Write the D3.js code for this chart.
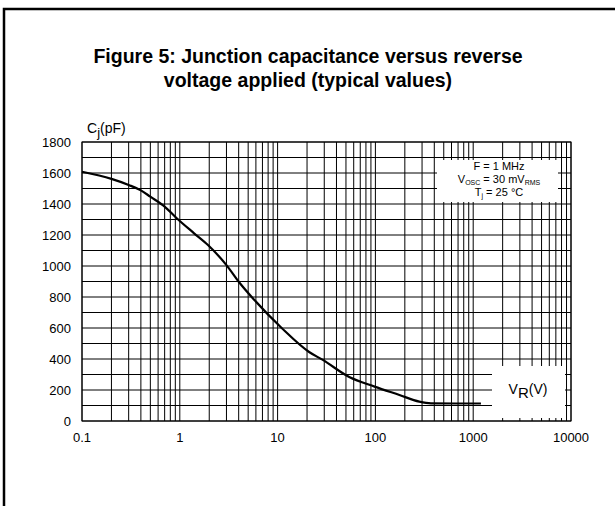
<!DOCTYPE html>
<html>
  <head>
    <meta charset="utf-8">
    <script src="https://cdn.jsdelivr.net/npm/d3@7"></script>
    <style>
      body{
        margin: 0;
        padding: 0;
        background-color: white;
      }
      text{
        font-family: "Liberation Sans", Arial, sans-serif;
        fill: #000;
      }
      .grid line{
        stroke: #000;
        stroke-width: 1px;
      }
    </style>
  </head>
  <body>
    <svg id="chart" width="615" height="506"></svg>
    <script>
      // reverse voltage (V) and junction capacitance (pF)
      var voltage = [0.1, 0.2, 0.3, 0.4, 0.5, 0.7, 0.93, 1.4, 1.94, 3.0, 4.1, 5.8, 11, 21, 29, 54, 98, 176, 281, 370, 660, 1200];
      var capacitance = [1608, 1562, 1523, 1488, 1447, 1383, 1308, 1211, 1135, 1006, 890, 780, 600, 445, 394, 284, 222, 168, 125, 114, 113, 113];
      var xTicks = [0.1, 1, 10, 100, 1000, 10000];
      var yTicks = [0, 200, 400, 600, 800, 1000, 1200, 1400, 1600, 1800];

      var svg = d3.select("#chart");

      // outer frame, runs off the right and bottom edge
      svg.append("rect")
        .attr("x", 4).attr("y", 9)
        .attr("width", 700).attr("height", 600)
        .attr("fill", "none")
        .attr("stroke", "#000")
        .attr("stroke-width", 2.5);

      svg.append("text")
        .attr("x", 308).attr("y", 63)
        .attr("text-anchor", "middle")
        .style("font-size", "19.5px").style("font-weight", "bold")
        .text("Figure 5: Junction capacitance versus reverse");
      svg.append("text")
        .attr("x", 308).attr("y", 87)
        .attr("text-anchor", "middle")
        .style("font-size", "19.5px").style("font-weight", "bold")
        .text("voltage applied (typical values)");

      var x = d3.scaleLog().domain([0.1, 10000]).range([82, 571]);
      var y = d3.scaleLinear().domain([0, 1800]).range([421, 142]);

      // minor grid: 1..9 per decade, every 100 pF
      var vLines = [];
      for (var d = -1; d < 4; d++) {
        for (var m = 1; m < 10; m++) vLines.push(m * Math.pow(10, d));
      }
      vLines.push(10000);
      var hLines = d3.range(0, 1801, 100);

      var grid = svg.append("g").attr("class", "grid");
      grid.selectAll(".v").data(vLines).join("line")
        .attr("x1", function(v){ return x(v); })
        .attr("x2", function(v){ return x(v); })
        .attr("y1", y(0)).attr("y2", y(1800));
      grid.selectAll(".h").data(hLines).join("line")
        .attr("y1", function(v){ return y(v); })
        .attr("y2", function(v){ return y(v); })
        .attr("x1", x(0.1)).attr("x2", x(10000));

      // white boxes for the conditions and the axis title
      svg.append("rect")
        .attr("x", 437).attr("y", 160).attr("width", 121).attr("height", 42)
        .attr("fill", "#fff");
      svg.append("rect")
        .attr("x", 492).attr("y", 366).attr("width", 73).attr("height", 52)
        .attr("fill", "#fff");

      var note = svg.append("g").style("font-size", "11px");
      note.append("text").attr("x", 499).attr("y", 170).attr("text-anchor", "middle").text("F = 1 MHz");
      var t2 = note.append("text").attr("x", 499).attr("y", 183).attr("text-anchor", "middle");
      t2.append("tspan").text("V");
      t2.append("tspan").attr("dy", 2).style("font-size", "7px").text("OSC");
      t2.append("tspan").attr("dy", -2).text(" = 30 mV");
      t2.append("tspan").attr("dy", 2).style("font-size", "7px").text("RMS");
      var t3 = note.append("text").attr("x", 499).attr("y", 196).attr("text-anchor", "middle");
      t3.append("tspan").text("T");
      t3.append("tspan").attr("dy", 2).style("font-size", "7px").text("j");
      t3.append("tspan").attr("dy", -2).text(" = 25 °C");

      var vr = svg.append("text").attr("x", 528).attr("y", 394).attr("text-anchor", "middle").style("font-size", "14px");
      vr.append("tspan").text("V");
      vr.append("tspan").attr("dy", 4).style("font-size", "15px").text("R");
      vr.append("tspan").attr("dy", -4).text("(V)");

      var cj = svg.append("text").attr("x", 87).attr("y", 133).style("font-size", "14px");
      cj.append("tspan").text("C");
      cj.append("tspan").attr("dy", 4).style("font-size", "13px").text("j");
      cj.append("tspan").attr("dy", -4).text("(pF)");

      // plot border
      svg.append("rect")
        .attr("x", x(0.1)).attr("y", y(1800))
        .attr("width", x(10000) - x(0.1)).attr("height", y(0) - y(1800))
        .attr("fill", "none").attr("stroke", "#000").attr("stroke-width", 1);

      // tick labels
      svg.append("g").selectAll("text").data(xTicks).join("text")
        .attr("x", function(v){ return x(v); })
        .attr("y", 442)
        .attr("text-anchor", "middle")
        .style("font-size", "13px")
        .text(function(v){ return String(v); });
      svg.append("g").selectAll("text").data(yTicks).join("text")
        .attr("x", 71)
        .attr("y", function(v){ return y(v) + 4.5; })
        .attr("text-anchor", "end")
        .style("font-size", "13px")
        .text(function(v){ return String(v); });

      var pts = voltage.map(function(v, i){ return [v, capacitance[i]]; });
      var line = d3.line()
        .x(function(p){ return x(p[0]); })
        .y(function(p){ return y(p[1]); })
        .curve(d3.curveMonotoneX);
      svg.append("path")
        .datum(pts)
        .attr("d", line)
        .attr("fill", "none")
        .attr("stroke", "#000")
        .attr("stroke-width", 2.2);
    </script>
  </body>
</html>
